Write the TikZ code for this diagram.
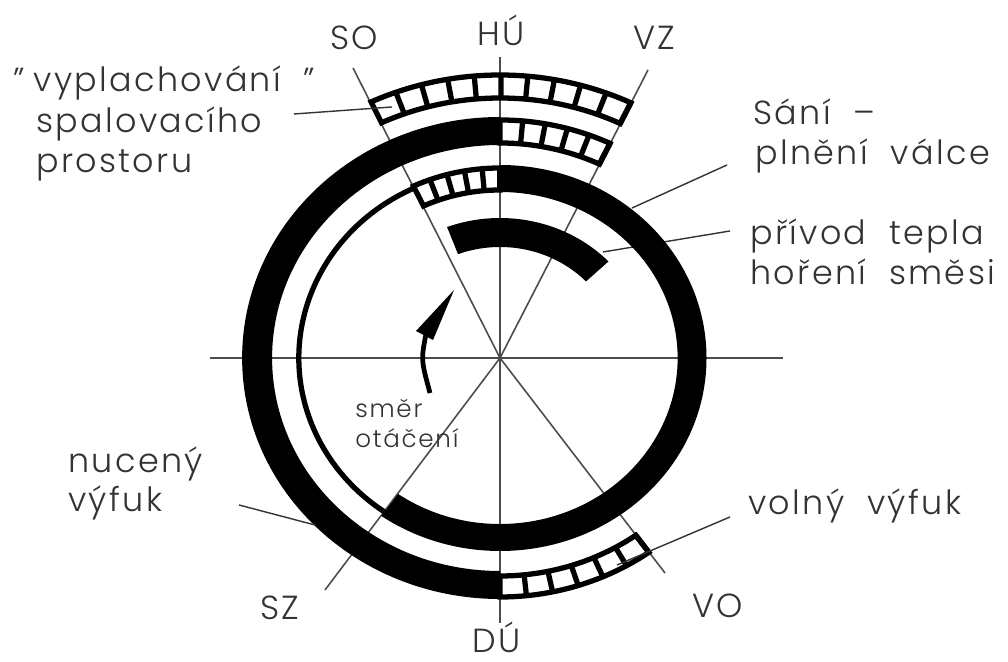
\documentclass[tikz,border=0pt]{standalone}
\usepackage{fontspec}
\setmainfont{Poppins}[UprightFont=* Light]
\usetikzlibrary{arrows.meta}

\newcommand{\ringblack}[4]{%
    \fill (#3:#1) arc[start angle=#3,end angle=#4,radius=#1] -- (#4:#2)
        arc[start angle=#4,end angle=#3,radius=#2] -- cycle;}
\newcommand{\ringcells}[5]{%
    \draw[cell] (#3:#1) arc[start angle=#3,end angle=#4,radius=#1] -- (#4:#2)
        arc[start angle=#4,end angle=#3,radius=#2] -- cycle;
    \foreach \i in {1,...,#5}
        \draw[cell] ({#3+(#4-#3)*\i/#5}:#1) -- ({#3+(#4-#3)*\i/#5}:#2);}

\begin{document}
\begin{tikzpicture}[x=0.02cm,y=0.02cm,
        spoke/.style={black!70,line width=0.9pt},
        leader/.style={black!80,line width=0.8pt},
        cell/.style={black,line width=3pt,line join=miter,fill=white},
        lbl/.style={anchor=base west,inner sep=0pt,text=black!80,font=\fontsize{19}{23}\selectfont\addfontfeature{LetterSpace=7}},
        lblsmall/.style={lbl,font=\fontsize{14}{17}\selectfont\addfontfeature{LetterSpace=7}}]
    \useasboundingbox (0,0) rectangle (1008,662);
    \fill[white] (0,0) rectangle (1008,662);
    % Centre and free ends of the lines
    \coordinate (c) at (500,304);
    \coordinate (hleft) at (210,304);
    \coordinate (hright) at (783,304);
    \coordinate (vtop) at (500,605);
    \coordinate (vbottom) at (500,39);
    \coordinate (so) at (353,594);
    \coordinate (vz) at (648,592);
    \coordinate (sz) at (325,72);
    \coordinate (vo) at (665,89);
    % Lines through the centre
    \draw[spoke] (hleft) -- (hright);
    \draw[spoke] (vtop) -- (vbottom);
    \foreach \e in {so,vz,sz,vo}
        \draw[spoke] (c) -- (\e);
    % Leader that runs behind the black ring
    \coordinate (heatlabel) at (730,431);
    \coordinate (heatring) at (603,410);
    \draw[leader] (heatlabel) -- (heatring);
    \begin{scope}[shift={(500,304)},xscale=1.07]
        % Black parts of the rings
        \ringblack{241}{213}{90}{270}
        \ringblack{193}{166}{90}{-125}
        \ringblack{140}{111}{110.7}{43.6}
        % Thin arc on the left
        \draw[line width=3pt] (115.2:188) arc[start angle=115.2,end angle=235,radius=188];
        % Rings with cells
        \ringcells{283}{260}{115.2}{64.4}{10}
        \ringcells{238}{215}{90}{64.4}{5}
        \ringcells{190}{168}{115.2}{90}{5}
        \ringcells{239}{218}{270}{305.6}{6}
    \end{scope}
    % Direction arrow
    \coordinate (arrowstart) at (430,269);
    \coordinate (arrowmid) at (421,302);
    \coordinate (arrowend) at (426,328);
    \coordinate (arrowtip) at (454,372);
    \coordinate (arrowa) at (416,331);
    \coordinate (arrowb) at (433,322);
    \draw[line width=2.7pt] (arrowstart) .. controls (arrowmid) .. (arrowend);
    \fill (arrowtip) -- (arrowa) -- (arrowb) -- cycle;
    % Other leaders
    \coordinate (flushlabel) at (294,548);
    \coordinate (flushcell) at (392,555);
    \coordinate (intakelabel) at (727,497);
    \coordinate (intakering) at (632,454);
    \coordinate (forcedlabel) at (239,157);
    \coordinate (forcedring) at (315,137);
    \coordinate (freelabel) at (730,145);
    \coordinate (freecell) at (617,97);
    \draw[leader] (flushlabel) -- (flushcell);
    \draw[leader] (intakelabel) -- (intakering);
    \draw[leader] (forcedlabel) -- (forcedring);
    \draw[leader] (freelabel) -- (freecell);
    % Texts
    \node[lbl] (tso) at (330,612) {SO};
    \node[lbl] (thu) at (477,616) {HÚ};
    \node[lbl] (tvz) at (633,612) {VZ};
    \node[lbl] (tsz) at (260,42) {SZ};
    \node[lbl] (tdu) at (472,9) {DÚ};
    \node[lbl] (tvo) at (692,44) {VO};
    \node[lbl] (tflush) at (13,570) {”\hspace{5pt}vyplachování \hspace{6pt}”};
    \node[lbl] (tflushb) at (36,529) {spalovacího};
    \node[lbl] (tflushc) at (36,489) {prostoru};
    \node[lbl] (tintake) at (753,537) {Sání \ –};
    \node[lbl] (tintakeb) at (755,497) {plnění \ válce};
    \node[lbl] (theat) at (750,417) {přívod \ tepla};
    \node[lbl] (theatb) at (750,377) {hoření \ směsi};
    \node[lbl] (tforced) at (68,189) {nucený};
    \node[lbl] (tforcedb) at (68,150) {výfuk};
    \node[lbl] (tfree) at (748,147) {volný \ výfuk};
    \node[lblsmall] (tdir) at (355,244) {směr};
    \node[lblsmall] (tdirb) at (355,214) {otáčení};
\end{tikzpicture}
\end{document}
